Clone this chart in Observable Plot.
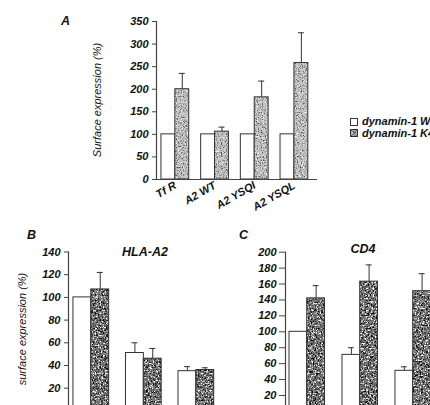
<!DOCTYPE html>
<html><head><meta charset="utf-8">
<script src="https://cdn.jsdelivr.net/npm/d3@7"></script>
<script src="https://cdn.jsdelivr.net/npm/@observablehq/plot@0.6"></script>
<style>
body{margin:0;background:#fff}
#fig{position:relative;width:430px;height:405px;overflow:hidden;font-family:"Liberation Sans",Arial,sans-serif;color:#111}
.t{position:absolute;white-space:nowrap;line-height:1}
.bi{font-weight:bold;font-style:italic}
.rot{transform:translate(-50%,-50%) rotate(-90deg);font-style:italic;font-size:11px}
.leg{position:absolute;left:350px;top:116px;font-size:11px;font-weight:bold;font-style:italic;line-height:11px;white-space:nowrap}
.leg div{display:flex;align-items:center;gap:4px;height:11.5px}
</style></head><body>
<svg width="0" height="0" style="position:absolute">
<defs>
<filter id="stipLight" x="-5%" y="-5%" width="110%" height="110%" color-interpolation-filters="sRGB">
  <feTurbulence type="fractalNoise" baseFrequency="0.8" numOctaves="2" seed="4" result="n"/>
  <feColorMatrix in="n" type="matrix" values="0 0 0 0 0.3  0 0 0 0 0.3  0 0 0 0 0.3  4 0 0 0 -2.0" result="dk"/>
  <feColorMatrix in="n" type="matrix" values="0 0 0 0 1  0 0 0 0 1  0 0 0 0 1  0 4 0 0 -2.2" result="lt"/>
  <feMerge result="m"><feMergeNode in="dk"/><feMergeNode in="lt"/></feMerge>
  <feComposite in="m" in2="SourceGraphic" operator="in" result="c"/>
  <feMerge><feMergeNode in="SourceGraphic"/><feMergeNode in="c"/></feMerge>
</filter>
<filter id="stipDark" x="-5%" y="-5%" width="110%" height="110%" color-interpolation-filters="sRGB">
  <feTurbulence type="fractalNoise" baseFrequency="0.6" numOctaves="2" seed="9" result="n"/>
  <feColorMatrix in="n" type="matrix" values="0 0 0 0 0.05  0 0 0 0 0.05  0 0 0 0 0.05  5 0 0 0 -2.3" result="dk"/>
  <feColorMatrix in="n" type="matrix" values="0 0 0 0 1  0 0 0 0 1  0 0 0 0 1  0 5 0 0 -2.6" result="lt"/>
  <feMerge result="m"><feMergeNode in="dk"/><feMergeNode in="lt"/></feMerge>
  <feComposite in="m" in2="SourceGraphic" operator="in" result="c"/>
  <feMerge><feMergeNode in="SourceGraphic"/><feMergeNode in="c"/></feMerge>
</filter>
</defs></svg>
<div id="fig"></div>
<script>
// ---- Panel A data ----
const catsA = ["Tf R", "A2 WT", "A2 YSQI", "A2 YSQL"];
const wtA = [100, 100, 100, 100];
const wtErrA = [0, 0, 0, 0];
const k44aA = [200, 106, 182, 258];
const k44aErrA = [35, 10, 36, 67];
const ticksA = [0, 50, 100, 150, 200, 250, 300, 350];

// ---- Panel B (HLA-A2) data ----
const catsB = ["1", "2", "3"];
const wtB = [100, 51, 35];
const wtErrB = [0, 9, 4];
const k44aB = [107, 46, 36];
const k44aErrB = [15, 9, 2];
const ticksB = [0, 20, 40, 60, 80, 100, 120, 140];

// ---- Panel C (CD4) data ----
const catsC = ["1", "2", "3"];
const wtC = [100, 71, 51];
const wtErrC = [0, 9, 5];
const k44aC = [142, 163, 151];
const k44aErrC = [16, 21, 22];
const ticksC = [20, 40, 60, 80, 100, 120, 140, 160, 180, 200];

const legendLabels = ["dynamin-1 WT", "dynamin-1 K44A"];

const fig = document.getElementById("fig");
const INK = "#333";

function panel(o) {
  const rows = o.cats.map((c, i) => ({cat: c, wt: o.wt[i], wtErr: o.wtErr[i], k: o.k[i], kErr: o.kErr[i]}));
  const range = o.width - o.mL - o.mR;
  const step = range / (o.cats.length - o.pi + 2 * o.po);
  const bw = step * (1 - o.pi);
  const half = bw / 2;
  const cap = (half - 6) / 2;
  const wtE = rows.filter(d => d.wtErr > 0);
  const kE = rows.filter(d => d.kErr > 0);
  const marks = [
    Plot.ruleX(wtE, {x: "cat", y1: "wt", y2: d => d.wt + d.wtErr, dx: -half / 2, stroke: INK}),
    Plot.tickY(wtE, {x: "cat", y: d => d.wt + d.wtErr, insetLeft: cap, insetRight: half + cap, stroke: INK}),
    Plot.ruleX(kE, {x: "cat", y1: "k", y2: d => d.k + d.kErr, dx: half / 2, stroke: INK}),
    Plot.tickY(kE, {x: "cat", y: d => d.k + d.kErr, insetLeft: half + cap, insetRight: cap, stroke: INK}),
    Plot.barY(rows, {x: "cat", y: "wt", fill: "white", stroke: INK, insetRight: half}),
    Plot.barY(rows, {x: "cat", y: "k", fill: o.fill, insetLeft: half}),
    Plot.barY(rows, {x: "cat", y: "k", fill: "none", stroke: INK, insetLeft: half}),
    Plot.ruleY([0], {stroke: "#444", strokeWidth: 1.2}),
    Plot.frame({anchor: "left", stroke: "#444", strokeWidth: 1.2}),
    Plot.axisY({ticks: o.ticks, tickSize: o.tickSize, tickPadding: o.tickPadding, label: null, stroke: "#444"})
  ];
  if (o.xLabels) marks.push(Plot.axisX({tickRotate: -30, tickSize: 0, tickPadding: 5, label: null}));
  const svg = Plot.plot({
    width: o.width, height: o.height,
    marginLeft: o.mL, marginRight: o.mR, marginTop: o.mT, marginBottom: o.mB,
    style: {fontFamily: "'Liberation Sans', Arial, sans-serif", fontSize: "11px", fontWeight: "bold", fontStyle: "italic", background: "transparent", color: "#111", maxWidth: "none", overflow: "visible"},
    x: {domain: o.cats, paddingInner: o.pi, paddingOuter: o.po, align: o.align, round: false, axis: o.xLabels ? undefined : null},
    y: {domain: [0, o.yMax], label: null},
    marks
  });
  svg.style.position = "absolute";
  svg.style.left = o.left + "px";
  svg.style.top = o.top + "px";
  svg.querySelectorAll(`g[fill="${o.fill}"]`).forEach(g => g.setAttribute("filter", `url(#${o.filter})`));
  fig.appendChild(svg);
}

panel({cats: catsA, wt: wtA, wtErr: wtErrA, k: k44aA, kErr: k44aErrA, ticks: ticksA, yMax: 350,
  left: 0, top: 0, width: 430, height: 230, mL: 156, mR: 113, mT: 21, mB: 51,
  pi: 0.3, po: 0.178, align: 0.35, tickSize: 4, tickPadding: 4, fill: "#c4c4c4", filter: "stipLight", xLabels: true});

panel({cats: catsB, wt: wtB, wtErr: wtErrB, k: k44aB, kErr: k44aErrB, ticks: ticksB, yMax: 140,
  left: 0, top: 220, width: 225, height: 200, mL: 68, mR: 5, mT: 31.5, mB: 9.6,
  pi: 0.32, po: 0.107, align: 0.44, tickSize: 4, tickPadding: 4, fill: "#767676", filter: "stipDark", xLabels: false});

panel({cats: catsC, wt: wtC, wtErr: wtErrC, k: k44aC, kErr: k44aErrC, ticks: ticksC, yMax: 200,
  left: 230, top: 220, width: 220, height: 200, mL: 55, mR: 14, mT: 31.7, mB: 9.1,
  pi: 0.33, po: 0.09, align: 0.42, tickSize: 6, tickPadding: 3, fill: "#777777", filter: "stipDark", xLabels: false});

function txt(html, cls, css) {
  const d = document.createElement("div");
  d.className = "t " + cls;
  d.textContent = html;
  Object.assign(d.style, css);
  fig.appendChild(d);
}
txt("A", "bi", {left: "61px", top: "15px", fontSize: "12.5px"});
txt("B", "bi", {left: "27px", top: "228.5px", fontSize: "12.5px"});
txt("C", "bi", {left: "239px", top: "228.5px", fontSize: "12.5px"});
txt("HLA-A2", "bi", {left: "145px", top: "246px", fontSize: "12.5px", transform: "translateX(-50%)"});
txt("CD4", "bi", {left: "363px", top: "243px", fontSize: "12.5px", transform: "translateX(-50%)"});
txt("Surface expression (%)", "rot", {left: "97px", top: "100px"});
txt("surface expression (%)", "rot", {left: "22px", top: "329px"});

const leg = document.createElement("div");
leg.className = "leg";
leg.innerHTML = `<div><svg width="8" height="8"><rect x="0.5" y="0.5" width="7" height="7" fill="white" stroke="${INK}"/></svg><span>${legendLabels[0]}</span></div>
<div><svg width="8" height="8"><rect x="0.5" y="0.5" width="7" height="7" fill="#b0b0b0" filter="url(#stipLight)"/><rect x="0.5" y="0.5" width="7" height="7" fill="none" stroke="${INK}"/><path d="M1 1L7 7M7 1L1 7" stroke="#555" stroke-width="0.7"/></svg><span>${legendLabels[1]}</span></div>`;
fig.appendChild(leg);
</script>
</body></html>
